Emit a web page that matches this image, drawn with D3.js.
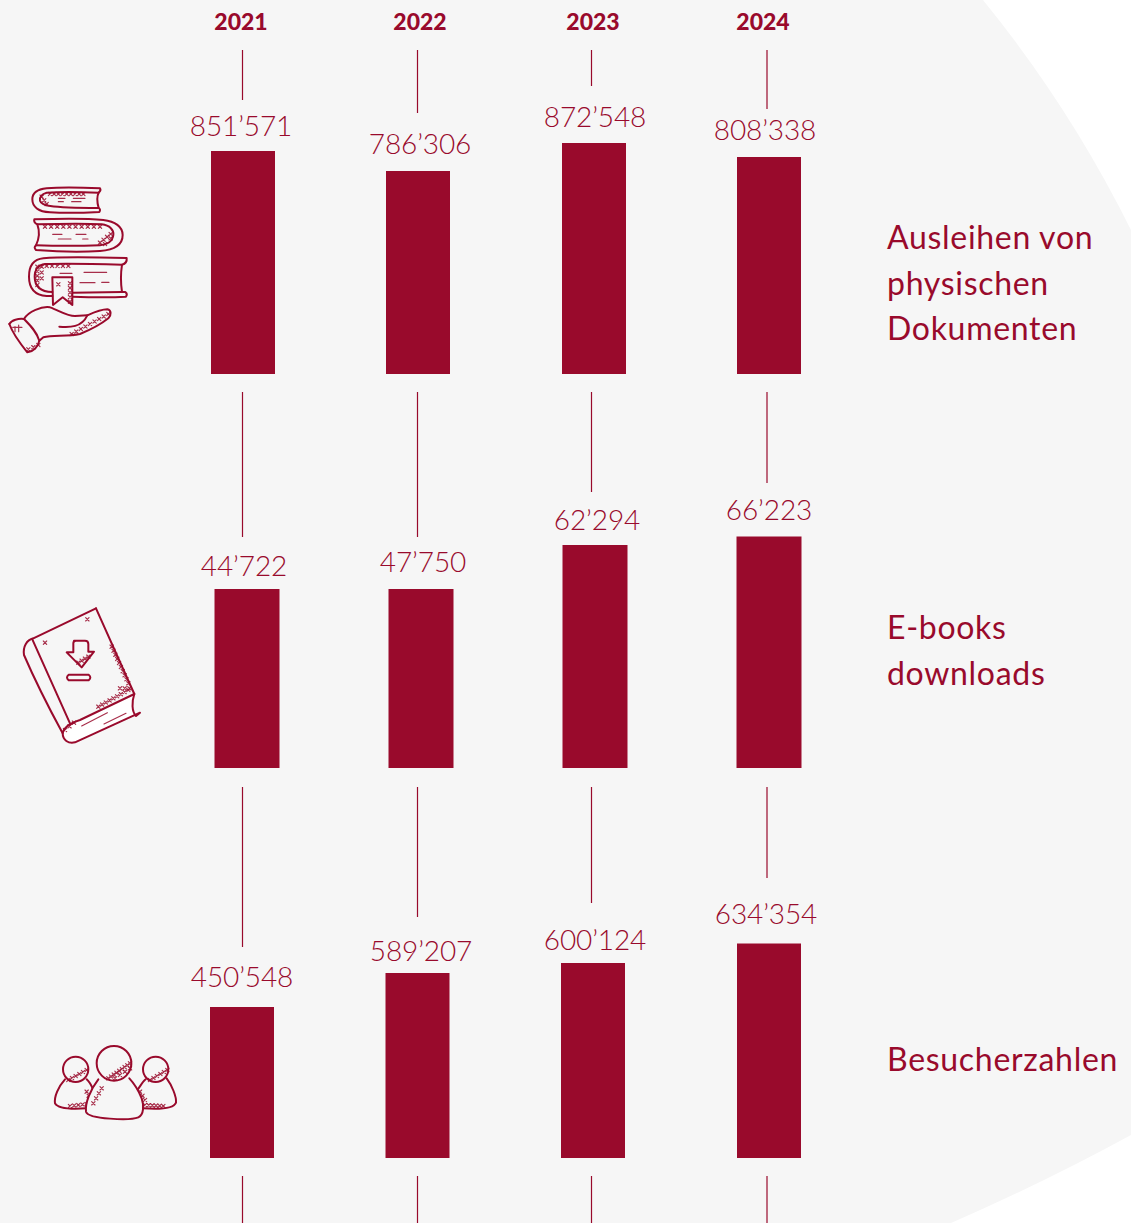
<!DOCTYPE html>
<html>
<head>
<meta charset="utf-8">
<script src="https://cdn.jsdelivr.net/npm/d3@7"></script>
<style>
  html, body { margin: 0; padding: 0; background: #fff; }
  svg { display: block; }
  text { fill: #990a2c; font-family: Lato, sans-serif; }
  .year { font-size: 23px; font-weight: 900; }
  .value { font-size: 28px; font-weight: 300; letter-spacing: -0.1px; }
  .label { font-size: 32px; font-weight: 400; letter-spacing: 0.7px; }
  .icon path, .icon circle, .icon rect { fill: none; stroke: #990a2c; stroke-width: 6; stroke-linecap: round; stroke-linejoin: round; }
  .icon .thin { stroke-width: 3.5; opacity: .85; }
</style>
</head>
<body>
<div id="chart"></div>
<script>
// data
const years = ["2021", "2022", "2023", "2024"];
const loans = [851571, 786306, 872548, 808338];
const ebooks = [44722, 47750, 62294, 66223];
const visitors = [450548, 589207, 600124, 634354];
const loansLabel = ["Ausleihen von", "physischen", "Dokumenten"];
const ebooksLabel = ["E-books", "downloads"];
const visitorsLabel = ["Besucherzahlen"];

const width = 1131, height = 1223, barColor = "#990a2c";

// the bars in the original are not to one strict zero based scale, so each panel
// gets a piecewise scale: value -> bar top, anchored on what the picture shows
const panels = [
  { values: loans, lines: loansLabel, base: 374, tops: [151, 171, 143, 157], xs: [211, 386, 562, 737],
    labelX: [241, 420, 595, 765], labelY: [136, 154, 127, 140], labelTop: 249, barW: 64 },
  { values: ebooks, lines: ebooksLabel, base: 768, tops: [589, 589, 545, 536.5], xs: [214.5, 388.5, 562.5, 736.5],
    labelX: [244, 423, 597, 769], labelY: [576, 572, 530, 520], labelTop: 639, barW: 65 },
  { values: visitors, lines: visitorsLabel, base: 1158, tops: [1007, 973, 963, 943.5], xs: [210, 385.5, 561, 737],
    labelX: [242, 421, 595, 766], labelY: [987, 961, 950, 924], labelTop: 1071, barW: 64 }
];

// connector lines
const stemX = d3.scaleOrdinal(years, [242.5, 417.5, 591.5, 767]);
const stemRows = [
  { from: 50, to: [100, 113, 86, 109] },
  { from: 392, to: [537, 537, 492, 483] },
  { from: 787, to: [947, 917, 903, 878] },
  { from: 1176, to: [1223, 1223, 1223, 1223] }
];

const svg = d3.select("#chart").append("svg")
  .attr("width", width)
  .attr("height", height);

// grey background with the big curved edge on the right
const bg = d3.path();
bg.moveTo(0, 0);
bg.lineTo(983, 0);
bg.quadraticCurveTo(1070, 107, 1131, 230);
bg.lineTo(1131, 1135);
bg.quadraticCurveTo(1043, 1183, 951, 1223);
bg.lineTo(0, 1223);
bg.closePath();
svg.append("path").attr("d", bg.toString()).attr("fill", "#f6f6f6");

// year headers
const yearX = d3.scaleOrdinal(years, [241, 420, 593, 763]);
svg.selectAll(".year")
  .data(years)
  .join("text")
  .attr("class", "year")
  .attr("x", d => yearX(d))
  .attr("y", 30)
  .attr("text-anchor", "middle")
  .text(d => d);

// connectors
stemRows.forEach(row => {
  svg.append("g").selectAll("line")
    .data(years)
    .join("line")
    .attr("x1", d => stemX(d))
    .attr("x2", d => stemX(d))
    .attr("y1", row.from)
    .attr("y2", (d, i) => row.to[i])
    .attr("stroke", barColor)
    .attr("stroke-width", 1.2);
});

function numberWithApostrophe(x) {
  return x.toString().replace(/\B(?=(\d{3})+(?!\d))/g, "\u2019");
}

// panels
panels.forEach(p => {
  const order = d3.range(p.values.length).sort((a, b) => p.values[a] - p.values[b]);
  const y = d3.scaleLinear()
    .domain(order.map(i => p.values[i]))
    .range(order.map(i => p.tops[i]));
  const x = d3.scaleOrdinal(years, p.xs);
  const g = svg.append("g");

  g.selectAll("rect")
    .data(p.values)
    .join("rect")
    .attr("x", (d, i) => x(years[i]))
    .attr("y", d => y(d))
    .attr("width", p.barW)
    .attr("height", d => p.base - y(d))
    .attr("fill", barColor);

  g.selectAll(".value")
    .data(p.values)
    .join("text")
    .attr("class", "value")
    .attr("x", (d, i) => p.labelX[i])
    .attr("y", (d, i) => p.labelY[i])
    .attr("text-anchor", "middle")
    .text(numberWithApostrophe);

  g.selectAll(".label")
    .data(p.lines)
    .join("text")
    .attr("class", "label")
    .attr("x", 887)
    .attr("y", (d, i) => p.labelTop + i * 45.5)
    .text(d => d);
});

// icons, drawn in 3x coordinates of their own
function icon(tx, ty, paths, thin, crosses, circles) {
  const g = svg.append("g").attr("class", "icon")
    .attr("transform", `translate(${tx},${ty}) scale(${1 / 3})`);
  paths.forEach(d => {
    const el = g.append("path").attr("d", d.d || d);
    if (d.fill) el.style("fill", d.fill);
  });
  (circles || []).forEach(c => g.append("circle").attr("cx", c[0]).attr("cy", c[1]).attr("r", c[2]).style("fill", "#f6f6f6"));
  thin.forEach(d => g.append("path").attr("class", "thin").attr("d", d));
  crosses.forEach(c => g.append("path").attr("class", "thin")
    .attr("d", `M${c[0] - 5} ${c[1] - 5}L${c[0] + 5} ${c[1] + 5}M${c[0] + 5} ${c[1] - 5}L${c[0] - 5} ${c[1] + 5}`));
}

// run of small crosses between two points
function run(x0, y0, x1, y1, n) {
  return d3.range(n).map(i => [x0 + (x1 - x0) * i / (n - 1), y0 + (y1 - y0) * i / (n - 1)]);
}

// stack of books on a hand
icon(0, 170, [
  "M300 55C240 52 170 52 140 55C110 58 97 70 97 88C97 110 115 125 150 127C200 130 260 128 298 126Q303 118 296 114C292 100 290 80 296 68Q304 62 300 55Z",
  "M296 68C240 66 170 66 140 68C125 72 118 82 120 92C124 106 140 114 296 114",
  "M103 148C180 146 260 145 310 150C345 154 368 170 368 195C368 225 340 240 300 243C240 247 170 245 108 240Q100 232 108 226C118 205 120 185 112 163Q100 157 103 148Z",
  "M112 163C180 161 260 160 305 163C330 166 342 180 340 195C338 215 320 225 300 226C240 228 170 228 108 226",
  "M157 378L140 378C100 375 87 350 87 320C87 290 100 268 130 265C180 260 300 262 380 264Q382 280 366 284C362 310 362 340 366 366L376 366Q384 372 378 380C340 382 280 382 218 380",
  "M366 284C300 282 190 280 135 282C115 285 104 300 104 320C104 345 118 365 157 366M218 368L366 366",
  "M157 322L217 322L217 405L188 382L159 405Z",
  "M28 462C35 450 55 445 72 447C85 425 125 408 150 412C175 420 200 438 225 438L262 436C280 428 305 418 322 418C334 420 335 435 325 445C300 465 270 480 240 492C200 500 160 495 130 502L118 512",
  "M72 447C90 465 110 485 118 512C115 530 100 545 82 547C60 520 40 495 28 462",
  "M178 470C210 473 245 472 262 436"
], [
  "M175 85h20M220 85h35M175 95h15M215 95h28",
  "M158 193h28M228 193h30M175 207h38M248 207h16",
  "M180 310h36M252 307h68M240 338h45M305 337h22",
  "M45 470v15M56 465v20M38 472h28"
], [
  ...run(150, 72, 250, 72, 9), ...run(125, 80, 140, 102, 3),
  ...run(135, 170, 300, 170, 10), ...run(300, 218, 332, 192, 4), ...run(315, 222, 332, 205, 2),
  ...run(140, 288, 205, 288, 5), ...run(112, 290, 112, 345, 5), ...run(125, 290, 125, 325, 3),
  ...run(210, 340, 210, 395, 5), [175, 343],
  ...run(215, 492, 325, 432, 9), ...run(85, 538, 115, 525, 3)
]);

// e-book with download arrow
icon(0, 590, [
  { d: "M403 312L240 390C210 400 190 415 188 430C188 450 205 462 225 457L420 368L408 378C395 365 395 335 403 312Z", fill: "#fff" },
  "M288 55L100 145C80 150 68 170 72 195C100 260 150 360 188 430",
  "M97 148L210 400M288 55L403 312",
  "M222 152L255 152Q265 152 265 162L265 185L282 185L245 232L200 187L220 187L220 160Q220 152 228 152Z",
  "M206 254L266 254Q276 262 266 271L206 271Q196 262 206 254Z"
], [
  "M245 408L322 368M312 402L378 370"
], [
  [135, 158], [262, 88], ...run(335, 170, 385, 280, 10), ...run(295, 350, 385, 300, 9),
  ...run(360, 295, 388, 295, 3), ...run(195, 420, 222, 398, 3), ...run(235, 218, 265, 200, 4)
]);

// three visitors
icon(30, 1030, [
  "M105 148C85 170 72 200 75 220C85 238 130 238 170 235",
  "M170 148C178 155 185 168 190 180",
  "M410 145C425 165 440 200 438 218C430 238 380 238 340 235",
  "M347 148C338 155 330 170 322 180"
], [], [
  ...run(115, 150, 170, 120, 6), ...run(120, 228, 170, 222, 5), ...run(170, 185, 182, 210, 3),
  ...run(360, 150, 412, 120, 6), ...run(345, 225, 400, 228, 6), ...run(330, 185, 345, 210, 3)
], [[137, 118, 38], [377, 118, 38]]);
icon(30, 1030, [
  { d: "M205 148C180 180 165 220 168 245C175 268 300 272 325 262C342 255 342 225 335 205C325 180 312 160 298 145", fill: "#f6f6f6" }
], [], [...run(190, 220, 215, 175, 4)], [[252, 100, 52]]);
icon(30, 1030, [], [], [...run(235, 145, 300, 100, 9), ...run(255, 145, 300, 115, 4)]);
</script>
</body>
</html>
